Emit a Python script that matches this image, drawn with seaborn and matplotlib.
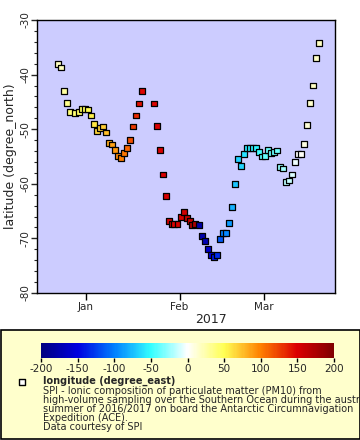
import matplotlib
matplotlib.use("Agg")
import matplotlib.pyplot as plt
import matplotlib.dates as mdates
from matplotlib.colors import LinearSegmentedColormap, Normalize
from matplotlib.cm import ScalarMappable
from matplotlib.patches import Rectangle
import matplotlib.ticker as mticker
import pandas as pd
import seaborn as sns

# ---- data ----
times = [
    "2016-12-22 17:00", "2016-12-23 15:00", "2016-12-24 17:00", "2016-12-25 14:00",
    "2016-12-26 17:00", "2016-12-28 12:00", "2016-12-29 16:00", "2016-12-30 14:00",
    "2016-12-31 14:00", "2017-01-01 13:00", "2017-01-02 13:00", "2017-01-03 16:00",
    "2017-01-04 13:00", "2017-01-05 13:00", "2017-01-06 13:00", "2017-01-07 13:00",
    "2017-01-08 12:00", "2017-01-09 12:00", "2017-01-10 12:00", "2017-01-11 12:00",
    "2017-01-12 12:00", "2017-01-13 12:00", "2017-01-14 12:00", "2017-01-15 12:00",
    "2017-01-16 12:00", "2017-01-17 11:00", "2017-01-18 11:00", "2017-01-19 11:00",
    "2017-01-23 11:00", "2017-01-24 10:00", "2017-01-25 10:00", "2017-01-26 10:00",
    "2017-01-27 10:00", "2017-01-28 12:00", "2017-01-29 08:00", "2017-01-30 04:00",
    "2017-01-31 08:00", "2017-02-01 12:00", "2017-02-02 09:00", "2017-02-03 09:00",
    "2017-02-04 09:00", "2017-02-05 06:00", "2017-02-06 06:00", "2017-02-07 08:00",
    "2017-02-08 08:00", "2017-02-09 08:00", "2017-02-10 08:00", "2017-02-11 08:00",
    "2017-02-12 08:00", "2017-02-13 08:00", "2017-02-14 07:00", "2017-02-15 07:00",
    "2017-02-16 07:00", "2017-02-17 07:00", "2017-02-18 07:00", "2017-02-19 07:00",
    "2017-02-20 07:00", "2017-02-21 07:00", "2017-02-22 06:00", "2017-02-23 06:00",
    "2017-02-24 06:00", "2017-02-25 06:00", "2017-02-26 06:00", "2017-02-27 06:00",
    "2017-02-28 06:00", "2017-03-01 06:00", "2017-03-02 05:00", "2017-03-03 05:00",
    "2017-03-04 05:00", "2017-03-05 05:00", "2017-03-06 05:00", "2017-03-07 05:00",
    "2017-03-08 05:00", "2017-03-09 05:00", "2017-03-10 04:00", "2017-03-11 04:00",
    "2017-03-12 04:00", "2017-03-13 04:00", "2017-03-14 04:00", "2017-03-15 04:00",
    "2017-03-16 04:00", "2017-03-17 03:00", "2017-03-18 03:00", "2017-03-19 03:00",
]
latitude = [
    -38.0, -38.7, -43.0, -45.2, -46.8, -47.0, -46.8, -46.3,
    -46.3, -46.4, -47.5, -49.0, -50.3, -49.7, -49.5, -50.6,
    -52.5, -52.8, -53.8, -54.9, -55.2, -54.3, -53.4, -51.9,
    -49.5, -47.5, -45.3, -43.0, -45.3, -49.4, -53.8, -58.3,
    -62.2, -66.8, -67.3, -67.3, -67.3, -66.0, -65.1, -66.2,
    -66.8, -67.5, -67.3, -67.5, -69.5, -70.4, -71.9, -73.0,
    -73.4, -73.0, -70.1, -69.0, -69.0, -67.1, -64.2, -60.0,
    -55.4, -56.7, -54.5, -53.4, -53.4, -53.4, -53.4, -54.1,
    -55.0, -54.9, -53.8, -54.3, -54.1, -53.9, -56.9, -57.2,
    -59.6, -59.4, -58.3, -56.0, -54.5, -54.5, -52.7, -49.2,
    -45.2, -42.0, -36.9, -34.2,
]
longitude = [
    18, 20, 28, 33, 40, 42, 45, 47,
    48, 50, 55, 60, 66, 68, 70, 75,
    82, 86, 90, 96, 100, 104, 110, 118,
    128, 134, 143, 147, 148, 149, 150, 151,
    152, 150, 148, 149, 150, 152, 155, 158,
    162, 172, 176, -178, -176, -172, -160, -150,
    -140, -132, -115, -100, -96, -90, -80, -72,
    -68, -66, -62, -58, -56, -55, -54, -46,
    -41, -39, -36, -37, -36, -35, -26, -23,
    -16, -13, -8, -4, 0, 3, 8, 12,
    15, 16, 17, 18,
]
cbar_ticks = [-200, -150, -100, -50, 0, 50, 100, 150, 200]
legend_title = "longitude (degree_east)"
legend_lines = [
    "SPI - Ionic composition of particulate matter (PM10) from",
    "high-volume sampling over the Southern Ocean during the austral",
    "summer of 2016/2017 on board the Antarctic Circumnavigation",
    "Expedition (ACE).",
    "Data courtesy of SPI",
]

df = pd.DataFrame({"time": pd.to_datetime(times), "latitude": latitude,
                   "longitude": longitude})

sns.set_style("ticks")
plt.rcParams["font.family"] = ["DejaVu Sans"]
plt.rcParams["axes.unicode_minus"] = False

cmap = LinearSegmentedColormap.from_list("erddap_rb", [
    (0.000, (0.00, 0.00, 0.50)),
    (0.125, (0.00, 0.00, 0.88)),
    (0.250, (0.00, 0.50, 1.00)),
    (0.375, (0.20, 1.00, 1.00)),
    (0.500, (1.00, 1.00, 1.00)),
    (0.625, (1.00, 1.00, 0.33)),
    (0.750, (1.00, 0.50, 0.00)),
    (0.875, (0.86, 0.00, 0.00)),
    (1.000, (0.50, 0.00, 0.00)),
])
norm = Normalize(-200, 200)

fig = plt.figure(figsize=(3.6, 4.4), dpi=100)
fig.patch.set_facecolor("white")

# overlay axes in pixel coordinates for the legend panel (drawn first / below)
lax = fig.add_axes([0, 0, 1, 1], facecolor="none", zorder=0)
lax.set_axis_off()
lax.set_xlim(0, 360)
lax.set_ylim(440, 0)
lax.add_patch(Rectangle((0.5, 330), 359, 109.5, facecolor=(1.0, 1.0, 0.8),
                        edgecolor="black", linewidth=1.2, zorder=0))
lax.scatter([22], [382], marker="s", s=16, facecolor="white",
            edgecolor="black", linewidth=1, zorder=5)
lax.text(43, 381, legend_title, fontsize=7, fontweight="bold", va="center", ha="left")
for i, line in enumerate(legend_lines):
    lax.text(43, 390.7 + i * 9.0, line, fontsize=7, va="center", ha="left")

ax = fig.add_axes([37 / 360, 1 - 293 / 440, 298 / 360, 273 / 440], zorder=2)
ax.set_facecolor((0.8, 0.8, 1.0))
sns.scatterplot(data=df, x="time", y="latitude", hue="longitude",
                palette=cmap, hue_norm=norm, marker="s", s=18,
                edgecolor="black", linewidth=0.9, legend=False, ax=ax, zorder=3)

ax.set_xlim(pd.Timestamp("2016-12-15 19:00"), pd.Timestamp("2017-03-24 12:00"))
ax.set_ylim(-80, -30)
ax.xaxis.set_major_locator(mdates.MonthLocator())
ax.xaxis.set_major_formatter(mdates.DateFormatter("%b"))
ax.yaxis.set_major_locator(mticker.MultipleLocator(10))
ax.yaxis.set_minor_locator(mticker.MultipleLocator(2))
ax.tick_params(axis="x", length=5, width=1, labelsize=7.5, pad=1.5, color="black")
ax.tick_params(axis="y", which="major", length=4, width=1, labelsize=7.5, pad=1,
               labelrotation=90)
ax.tick_params(axis="y", which="minor", length=2, width=0.8)
for lab in ax.get_yticklabels():
    lab.set_va("center")
for sp in ax.spines.values():
    sp.set_color("black")
    sp.set_linewidth(1.0)
ax.set_ylabel("latitude (degree_north)", fontsize=9, labelpad=2)
ax.set_xlabel("2017", fontsize=9)
ax.xaxis.set_label_coords((211 - 37) / 298, -0.075)

cax = fig.add_axes([41 / 360, 1 - 358 / 440, 293 / 360, 15 / 440], zorder=3)
cb = fig.colorbar(ScalarMappable(norm=norm, cmap=cmap), cax=cax,
                  orientation="horizontal", ticks=cbar_ticks)
cb.outline.set_visible(False)
cax.tick_params(length=3, width=1, labelsize=7.5, pad=1.5, color="black")

fig.savefig("out.png", dpi=100)
